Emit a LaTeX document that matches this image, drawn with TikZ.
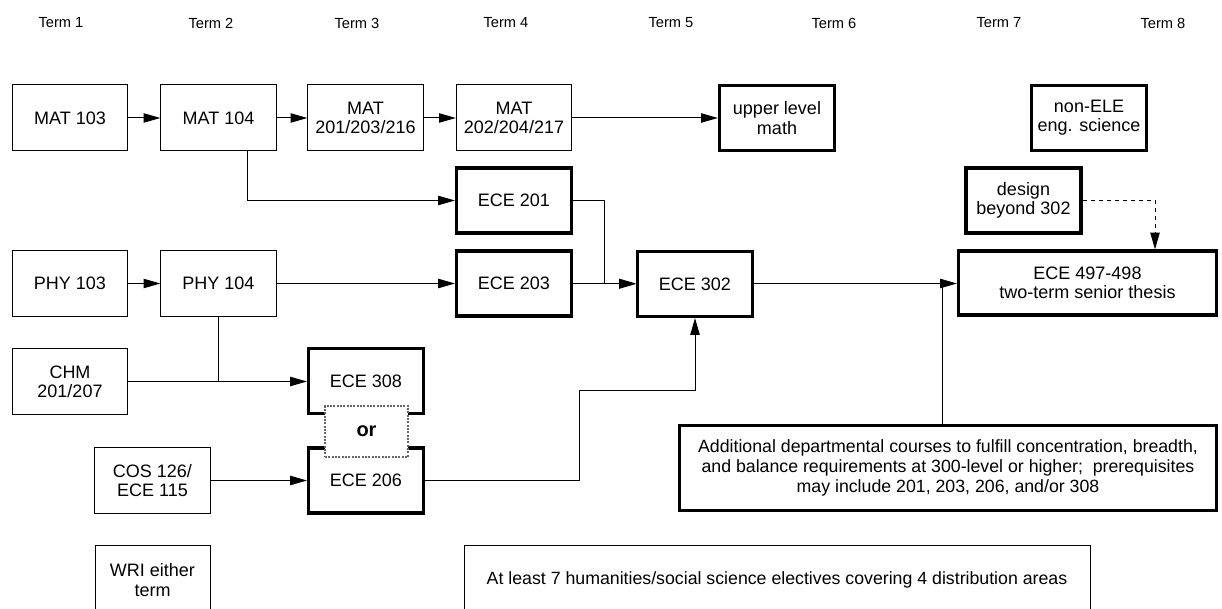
\documentclass[tikz,border=0pt]{standalone}
\usepackage{fontspec}
\setmainfont{Liberation Sans}
\usetikzlibrary{arrows.meta,calc}
\begin{document}
\begin{tikzpicture}[x=0.75pt,y=-0.75pt,
  box/.style={draw, line width=0.75pt, align=center, inner sep=0pt, fill=white,
    font=\fontsize{13.5}{14.5}\selectfont, minimum width=86.5pt, minimum height=49.5pt},
  tbox/.style={box, line width=2.4pt, minimum width=86.25pt, minimum height=48.75pt},
  orbox/.style={draw=black!60, densely dotted, line width=1.5pt, fill=white, inner sep=0pt,
    minimum width=62.25pt, minimum height=38.25pt, font=\fontsize{15}{16}\selectfont\bfseries},
  widetxt/.style={font=\fontsize{13.3}{15}\selectfont},
  arr/.style={line width=0.75pt, -{Triangle[length=12.5pt,width=7pt]}},
  ln/.style={line width=0.75pt},
  term/.style={font=\fontsize{11}{13}\selectfont}]
\useasboundingbox (0,0) rectangle (1222,609);

% term headings
\node[term] (t1) at (61,23) {Term 1};
\node[term] (t2) at (211,23) {Term 2};
\node[term] (t3) at (357,23) {Term 3};
\node[term] (t4) at (506,23) {Term 4};
\node[term] (t5) at (671,23) {Term 5};
\node[term] (t6) at (834,23) {Term 6};
\node[term] (t7) at (999,23) {Term 7};
\node[term] (t8) at (1163,23) {Term 8};

% row 1
\node[box] (mat103) at (70,118) {MAT 103};
\node[box] (mat104) at (218.5,118) {MAT 104};
\node[box] (mat201) at (365.5,118) {MAT\\201/203/216};
\node[box] (mat202) at (514,118) {MAT\\202/204/217};
\node[tbox] (upper) at (777,118) {upper level\\math};
\node[tbox] (nonele) at (1089,118) {non-ELE\\eng. science};

% row 2
\node[tbox] (ece201) at (514,200.5) {ECE 201};
\node[tbox] (design) at (1023.5,200.5) {design\\beyond 302};

% row 3
\node[box] (phy103) at (70,283.5) {PHY 103};
\node[box] (phy104) at (218.5,283.5) {PHY 104};
\node[tbox] (ece203) at (514,283.5) {ECE 203};
\node[tbox] (ece302) at (695,284) {ECE 302};
\node[tbox, minimum width=193.5pt, minimum height=48pt] (thesis) at (1087.5,283) {ECE 497-498\\two-term senior thesis};

% row 4
\node[box] (chm) at (70,381.5) {CHM\\201/207};
\node[tbox] (ece308) at (366,381) {ECE 308};
\node[box] (cos) at (152.5,480.5) {COS 126/\\ECE 115};
\node[tbox] (ece206) at (366,480.5) {ECE 206};
\node[orbox] (or) at (366.5,431.5) {or};
\node[tbox, widetxt, minimum width=402.75pt, minimum height=63.75pt] (add) at (948,468)
  {Additional departmental courses to fulfill concentration, breadth,\\
   and balance requirements at 300-level or higher;\ \ prerequisites\\
   may include 201, 203, 206, and/or 308};

% bottom row
\node[box, minimum width=86.25pt, minimum height=51pt] (wri) at (152.5,580) {WRI either\\term};
\node[box, widetxt, minimum width=469.5pt, minimum height=51pt] (atleast) at (777,580)
  {At least 7 humanities/social science electives covering 4 distribution areas};

% coordinates for bends
\coordinate (b201) at (604,200.5);
\coordinate (b206) at (579,391);
\coordinate (j) at (942,283.5);
\coordinate (dd) at (1155,200.5);

% connectors
\draw[arr] (mat103) -- (mat104);
\draw[arr] (mat104) -- (mat201);
\draw[arr] (mat201) -- (mat202);
\draw[arr] (mat202) -- (upper);
\draw[arr] ([xshift=21.75pt]mat104.south) |- (ece201.west);
\draw[arr] (ece201.east) -- (b201) |- (ece302.west);
\draw[arr] (ece203.east) -- (ece302.west |- ece203.east);
\draw[arr] (phy103) -- (phy104);
\draw[arr] (phy104.east) -- (ece203.west);
\draw[ln] (phy104.south) -- (phy104.south |- chm.east);
\draw[arr] (chm.east) -- (ece308.west |- chm.east);
\draw[arr] (cos) -- (ece206);
\draw[arr] (ece206.east) -| (b206) -| (ece302.south);
\draw[arr] (ece302.east |- j) -- (thesis.west |- j);
\draw[ln] (add.north -| j) -- (j);
\draw[arr, dashed] (design.east) -- (dd) -- (dd |- thesis.north);
\end{tikzpicture}
\end{document}
